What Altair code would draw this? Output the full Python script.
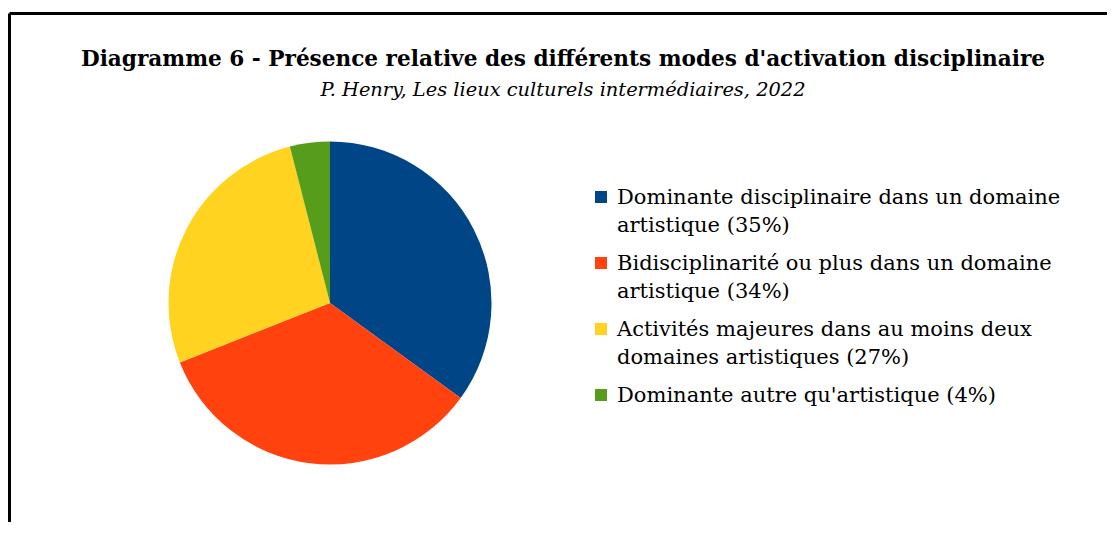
import altair as alt
import pandas as pd

categories = [
    "Dominante disciplinaire dans un domaine|artistique (35%)",
    "Bidisciplinarité ou plus  dans un domaine|artistique (34%)",
    "Activités majeures dans au moins deux|domaines artistiques (27%)",
    "Dominante autre qu'artistique (4%)",
]
values = [35, 34, 27, 4]
colors = ["#004586", "#FF420E", "#FFD320", "#579D1C"]

df = pd.DataFrame({"cat": categories, "val": values, "idx": list(range(len(values)))})

FONT = "DejaVu Serif"
W, H = 1099, 510

color = alt.Color(
    "cat:N",
    sort=categories,
    scale=alt.Scale(domain=categories, range=colors),
    legend=None,
)

pie = alt.Chart(df).mark_arc(radius=161.5).encode(
    theta=alt.Theta("val:Q", stack=True),
    order=alt.Order("idx:Q"),
    x=alt.value(322),
    y=alt.value(291),
    color=color,
)

ypos = alt.Y("idx:Q", scale=alt.Scale(domain=[0, 3], range=[185, 383]), axis=None)

leg_sym = alt.Chart(df).mark_square(size=144, opacity=1).encode(
    x=alt.value(593),
    y=ypos,
    color=color,
)

leg_txt = alt.Chart(df).transform_calculate(
    lines="split(datum.cat, '|')"
).mark_text(
    align="left", baseline="alphabetic", dy=7, font=FONT, fontSize=21,
    lineHeight=28, color="#000000",
).encode(
    x=alt.value(609),
    y=ypos,
    text=alt.Text("lines:N"),
)

frame = alt.Chart(pd.DataFrame({"k": [0]}))
top_line = frame.mark_rule(color="#000000", strokeWidth=3).encode(
    x=alt.value(1.5), x2=alt.value(W), y=alt.value(1.5)
)
left_line = frame.mark_rule(color="#000000", strokeWidth=3).encode(
    x=alt.value(1.5), y=alt.value(1.5), y2=alt.value(H)
)

chart = alt.layer(pie, leg_sym, leg_txt, top_line, left_line).properties(
    width=W,
    height=H,
    title=alt.TitleParams(
        text="Diagramme 6 - Présence relative des différents modes d'activation disciplinaire",
        subtitle="P. Henry, Les lieux culturels intermédiaires, 2022",
        font=FONT,
        fontSize=21.6,
        fontWeight="bold",
        color="#000000",
        subtitleFont=FONT,
        subtitleFontSize=19.4,
        subtitleFontStyle="italic",
        subtitleColor="#000000",
        subtitlePadding=10,
        anchor="middle",
        orient="top",
        offset=-87,
        dx=5.5,
    ),
    padding={"left": 0, "top": 4, "right": 0, "bottom": 0},
    autosize=alt.AutoSizeParams(type="none"),
).configure_view(stroke="transparent", strokeWidth=0)

chart.save("out.html", embed_options={"renderer": "svg", "actions": False})
